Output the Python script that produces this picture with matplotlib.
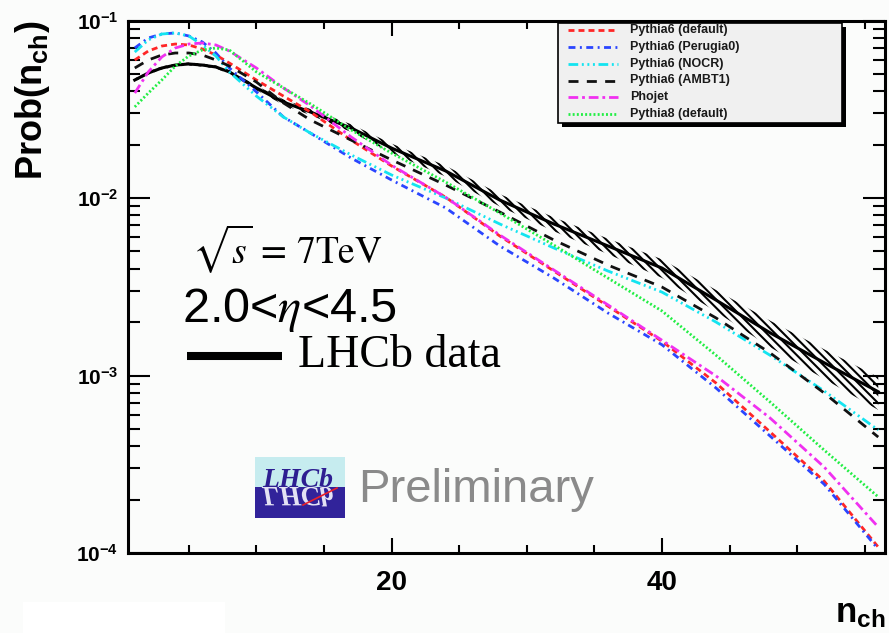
import numpy as np
import matplotlib
matplotlib.use("Agg")
import matplotlib.pyplot as plt
from matplotlib.ticker import MultipleLocator, LogLocator, FuncFormatter, NullFormatter
from matplotlib.patches import Rectangle, PathPatch
from matplotlib.textpath import TextPath
from matplotlib.font_manager import FontProperties
from matplotlib.lines import Line2D
from matplotlib.transforms import Affine2D

plt.rcParams['font.family'] = ['Liberation Sans', 'DejaVu Sans']
plt.rcParams['mathtext.fontset'] = 'custom'
plt.rcParams['mathtext.rm'] = 'Liberation Sans'
plt.rcParams['mathtext.bf'] = 'Liberation Sans:bold'
plt.rcParams['mathtext.it'] = 'Liberation Sans:italic'
plt.rcParams['hatch.linewidth'] = 1.5
plt.rcParams['lines.scale_dashes'] = False

# ---------------- data ----------------
n_ch = [1, 2, 3, 4, 5, 6, 7, 8, 10, 12, 14, 17, 20, 24, 28, 32, 36, 40, 44, 48, 52, 56]

lhcb_data = [0.0462, 0.0506, 0.0540, 0.0561, 0.0569, 0.0561, 0.0547, 0.0513, 0.0417, 0.0347,
             0.0305, 0.0248, 0.0191, 0.0142, 0.00974, 0.00714, 0.00537, 0.00403, 0.00266,
             0.00174, 0.00118, 0.00081]
lhcb_rel_err = [0.02, 0.02, 0.02, 0.02, 0.02, 0.02, 0.02, 0.025, 0.03, 0.035, 0.04, 0.05,
                0.06, 0.07, 0.08, 0.09, 0.10, 0.12, 0.14, 0.17, 0.19, 0.21]

pythia6_default = [0.0599, 0.0673, 0.0718, 0.0737, 0.0728, 0.0691, 0.0639, 0.0576, 0.0462,
                   0.0375, 0.0305, 0.0212, 0.01515, 0.0101, 0.00611, 0.00388, 0.00246, 0.00156,
                   0.000907, 0.000481, 0.000254, 0.000108]
pythia6_perugia0 = [0.0700, 0.0797, 0.0839, 0.0851, 0.0818, 0.0757, 0.0656, 0.0540, 0.0396,
                    0.0286, 0.0232, 0.0168, 0.01263, 0.00879, 0.00537, 0.00354, 0.00225,
                    0.00149, 0.00085, 0.000456, 0.000244, 0.000105]
pythia6_nocr = [0.0664, 0.0777, 0.0839, 0.0851, 0.0818, 0.0728, 0.0631, 0.0513, 0.0375,
                0.0286, 0.0232, 0.0175, 0.01348, 0.0100, 0.00714, 0.00523, 0.00388, 0.00295,
                0.00200, 0.00130, 0.000818, 0.000493]
pythia6_ambt1 = [0.0540, 0.0599, 0.0639, 0.0656, 0.0656, 0.0639, 0.0599, 0.0554, 0.0450,
                 0.0343, 0.0275, 0.0212, 0.0164, 0.01183, 0.00834, 0.0058, 0.00419, 0.00315,
                 0.00211, 0.00134, 0.000797, 0.000450]
phojet = [0.0390, 0.0513, 0.0623, 0.0700, 0.0737, 0.0747, 0.0728, 0.0673, 0.0540, 0.0417,
          0.0330, 0.0221, 0.0153, 0.0101, 0.00619, 0.00393, 0.00250, 0.00158, 0.000994,
          0.000576, 0.000305, 0.00014]
pythia8_default = [0.0326, 0.0390, 0.0462, 0.0554, 0.0631, 0.0682, 0.0700, 0.0682, 0.0513,
                   0.0417, 0.0339, 0.0242, 0.0179, 0.0123, 0.00823, 0.00543, 0.00354, 0.00231,
                   0.00130, 0.000709, 0.00038, 0.000207]

series = [
    ("Pythia6 (default)", pythia6_default, "#ff2626", (0, (4.3, 2.9))),
    ("Pythia6 (Perugia0)", pythia6_perugia0, "#2a45ff", (0, (5.0, 3.2, 1.4, 3.2))),
    ("Pythia6 (NOCR)", pythia6_nocr, "#14e4f0", (0, (7.0, 2.6, 1.4, 2.6, 1.4, 2.6, 1.4, 2.6))),
    ("Pythia6 (AMBT1)", pythia6_ambt1, "#111111", (0, (7.2, 6.0))),
    ("Phojet", phojet, "#f030f0", (0, (7.0, 2.8, 2.0, 2.8))),
    ("Pythia8 (default)", pythia8_default, "#22ee44", (0, (1.4, 1.6))),
]

# ---------------- figure ----------------
W, H = 889, 633
fig = plt.figure(figsize=(W / 100, H / 100), dpi=100, facecolor="#fbfcfb")


def fx(px):
    return px / W


def fy(py):
    return 1 - py / H


ax = fig.add_axes([fx(128), fy(553), fx(885) - fx(128), fy(20.5) - fy(553)])
ax.set_facecolor("none")
ax.set_yscale("log")
ax.set_xlim(0.5, 56.5)
ax.set_ylim(1e-4, 1e-1)

# LHCb measurement: hatched uncertainty band and central line
d = np.array(lhcb_data)
e = np.array(lhcb_rel_err)
ax.fill_between(n_ch, d * (1 - e), d * (1 + e), facecolor="none", edgecolor="black",
                hatch="\\\\\\\\", linewidth=0, zorder=2)
ax.plot(n_ch, d, color="black", lw=2.2, zorder=3)

for label, vals, color, ls in series:
    ax.plot(n_ch, vals, color=color, lw=2.0, linestyle=ls, zorder=4)

# axes styling
for sp in ax.spines.values():
    sp.set_linewidth(2.2)
ax.xaxis.set_major_locator(MultipleLocator(20))
ax.xaxis.set_minor_locator(MultipleLocator(5))
ax.yaxis.set_major_locator(LogLocator(base=10))
ax.yaxis.set_minor_locator(LogLocator(base=10, subs=np.arange(2, 10)))
ax.yaxis.set_minor_formatter(NullFormatter())
ax.yaxis.set_major_formatter(FuncFormatter(
    lambda v, pos: r"$\mathbf{10^{%d}}$" % int(round(np.log10(v)))))
ax.xaxis.set_major_formatter(FuncFormatter(lambda v, pos: "%d" % v))
ax.tick_params(axis="both", which="both", direction="in", top=True, right=True, width=1.5)
ax.tick_params(axis="x", which="major", length=11, labelsize=20, pad=12)
ax.tick_params(axis="x", which="minor", length=6)
ax.tick_params(axis="y", which="major", length=16, labelsize=15, pad=7)
ax.tick_params(axis="y", which="minor", length=8.5)
for lab in ax.get_xticklabels():
    lab.set_fontweight("bold")

# axis titles
fig.text(fx(33), fy(100), r"Prob($\mathbf{n_{ch}}$)", rotation=90, fontsize=26,
         fontweight="bold", ha="center", va="center")
fig.text(fx(885), fy(622), r"$\mathbf{n_{ch}}$", fontsize=25, ha="right", va="baseline")

# legend box with drop shadow
lx0, ly0, lx1, ly1 = 558, 23, 842, 123
fig.add_artist(Rectangle((fx(lx0 + 4), fy(ly1 + 4)), fx(lx1 - lx0), (ly1 - ly0) / H,
                         transform=fig.transFigure, facecolor="black", edgecolor="none",
                         zorder=5))
fig.add_artist(Rectangle((fx(lx0), fy(ly1)), fx(lx1 - lx0), (ly1 - ly0) / H,
                         transform=fig.transFigure, facecolor="#f0f0f0", edgecolor="black",
                         linewidth=1.2, zorder=6))
row_y = [30, 47, 63.5, 80.5, 97, 114]
for (label, vals, color, ls), ry in zip(series, row_y):
    fig.add_artist(Line2D([fx(568), fx(618)], [fy(ry), fy(ry)], transform=fig.transFigure,
                          color=color, lw=2.0, linestyle=ls, zorder=7))
    fig.text(fx(630), fy(ry), label, fontsize=9, fontweight="bold", color="#1a1a1a",
             ha="left", va="center", zorder=7)

# annotations
fig.text(fx(192), fy(263), r"$\sqrt{s}\,{=}\,7\mathrm{TeV}$", fontsize=27,
         math_fontfamily="stix", ha="left", va="baseline")
fig.text(fx(182), fy(322), r"2.0<$\eta$<4.5", fontsize=35, math_fontfamily="stix",
         ha="left", va="baseline")
fig.add_artist(Line2D([fx(187), fx(282)], [fy(355.5), fy(355.5)], transform=fig.transFigure,
                      color="black", lw=5.8, solid_capstyle="butt"))
fig.text(fx(298), fy(367), "LHCb data", fontsize=33, family="Liberation Serif",
         ha="left", va="baseline")

# LHCb logo
fig.add_artist(Rectangle((fx(255), fy(487)), fx(90), 30 / H, transform=fig.transFigure,
                         facecolor="#c6ecef", edgecolor="none", zorder=5))
fig.add_artist(Rectangle((fx(255), fy(518)), fx(90), 31 / H, transform=fig.transFigure,
                         facecolor="#31239a", edgecolor="none", zorder=5))
fig.text(fx(262), fy(487), "LHCb", fontsize=20, family="Liberation Serif", style="italic",
         fontweight="bold", color="#2d1e91", ha="left", va="baseline", zorder=6)
mirror = TextPath((0, 0), "LHCb", size=28,
                  prop=FontProperties(family="Liberation Serif", style="italic", weight="bold"))
fig.add_artist(PathPatch(mirror, transform=Affine2D().scale(1, -1).translate(262, H - 487),
                         facecolor="#e4e2f4", edgecolor="none", zorder=6))
fig.add_artist(Line2D([fx(303), fx(337)], [fy(505), fy(488)], transform=fig.transFigure,
                      color="#e8202a", lw=1.2, zorder=7))
fig.text(fx(358), fy(502), "Preliminary", fontsize=34, color="#8a8a8a", ha="left",
         va="baseline")

# blank strip below the frame
fig.add_artist(Rectangle((fx(23), 0), fx(202), 31 / H, transform=fig.transFigure,
                         facecolor="white", edgecolor="none", zorder=1))

fig.savefig("out.png", dpi=100, facecolor=fig.get_facecolor())
